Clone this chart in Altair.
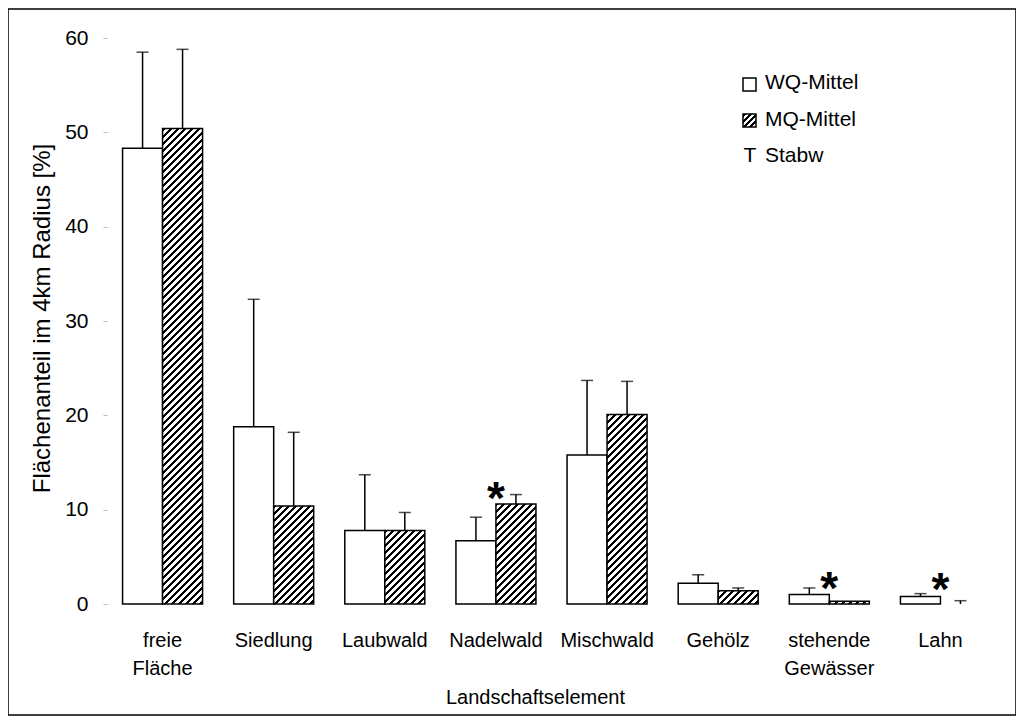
import altair as alt
import pandas as pd

categories = ["freie Fläche", "Siedlung", "Laubwald", "Nadelwald", "Mischwald",
              "Gehölz", "stehende Gewässer", "Lahn"]
wq_mean = [48.3, 18.8, 7.8, 6.7, 15.8, 2.2, 1.0, 0.8]
wq_sd = [10.2, 13.5, 5.9, 2.5, 7.9, 0.9, 0.7, 0.3]
mq_mean = [50.4, 10.4, 7.8, 10.6, 20.1, 1.4, 0.3, 0.0]
mq_sd = [8.4, 7.8, 1.9, 1.0, 3.5, 0.3, 0.0, 0.35]
star_cats = ["Nadelwald", "stehende Gewässer", "Lahn"]
star_y = [12.3, 2.8, 2.7]
series = ["WQ", "MQ"]
legend_labels = ["WQ-Mittel", "MQ-Mittel", "Stabw"]
y_ticks = [0, 10, 20, 30, 40, 50, 60]

W, H = 889, 566
YMAX = 60
BAR_W = 40
FONT = "Liberation Sans"

rows = []
for i, c in enumerate(categories):
    rows.append(dict(cat=c, s="WQ", v=wq_mean[i], sd=wq_sd[i], top=wq_mean[i] + wq_sd[i]))
    rows.append(dict(cat=c, s="MQ", v=mq_mean[i], sd=mq_sd[i], top=mq_mean[i] + mq_sd[i]))
df = pd.DataFrame(rows)
stars = pd.DataFrame({"cat": star_cats, "y": star_y})


def hatch(w, h, period=7.0, black=3.0):
    """Diagonal '/' stripes via a hard-stop linear gradient in bbox units."""
    h = max(h, 1.0)
    L = w + h
    k = L / (w * w + h * h)
    stops = []
    s = 0.0
    while s < L:
        a = s / L
        b = min((s + black) / L, 1.0)
        stops += [{"offset": a, "color": "white"}, {"offset": a, "color": "black"},
                  {"offset": b, "color": "black"}, {"offset": b, "color": "white"}]
        s += period
    stops.append({"offset": 1.0, "color": "white"})
    return {"gradient": "linear", "x1": 0, "y1": 0, "x2": w * k, "y2": h * k, "stops": stops}


x_axis = alt.Axis(labelAngle=0, ticks=False, domain=False, labelFontSize=20,
                  labelColor="black", labelPadding=26, labelLineHeight=28,
                  labelExpr="split(datum.label, ' ')", labelFont=FONT,
                  titleFontSize=20, titleFont=FONT,
                  titleFontWeight="normal", titleColor="black",
                  titleX=428, titleY=93, titleBaseline="middle", titleAlign="center")
y_axis = alt.Axis(values=y_ticks, grid=False, domain=False, tickColor="#bbbbbb",
                  tickSize=4, labelFontSize=21, labelColor="black", labelPadding=15,
                  labelFont=FONT, titleFontSize=24,
                  titleFont=FONT, titleFontWeight="normal", titleColor="black",
                  titleAngle=270, titleX=-65, titleY=280, titleAlign="center",
                  titleBaseline="middle")
X_TITLE = "Landschaftselement"
Y_TITLE = "Flächenanteil im 4km Radius [%]"
xs = alt.Scale(domain=categories, paddingInner=0.28, paddingOuter=0.14)
ys = alt.Scale(domain=[0, YMAX], nice=False, zero=True)


def X():
    return alt.X("cat:N", scale=xs, axis=x_axis, title=X_TITLE)


def Y(field):
    return alt.Y(field, scale=ys, axis=y_axis, title=Y_TITLE)


xo = alt.XOffset("s:N", scale=alt.Scale(domain=series, paddingInner=0, paddingOuter=0))

layers = []
wq_df = df[(df.s == "WQ") & (df.v > 0.01)]
layers.append(alt.Chart(wq_df).mark_bar(fill="white", stroke="black", strokeWidth=1.5)
              .encode(x=X(), xOffset=xo, y=Y("v:Q")))

for c, m in zip(categories, mq_mean):
    if m <= 0.01:
        continue
    h = m / YMAX * H
    sub = df[(df.s == "MQ") & (df.cat == c)]
    layers.append(alt.Chart(sub).mark_bar(fill=hatch(BAR_W, h), stroke="black", strokeWidth=1.5)
                  .encode(x=X(), xOffset=xo, y=Y("v:Q")))

err = df[df.sd > 0]
layers.append(alt.Chart(err).mark_rule(color="black", strokeWidth=1.5)
              .encode(x=X(), xOffset=xo, y=Y("v:Q"), y2="top:Q"))
layers.append(alt.Chart(err).mark_tick(color="black", thickness=1.5, size=12, orient="horizontal")
              .encode(x=X(), xOffset=xo, y=Y("top:Q")))

layers.append(alt.Chart(stars).mark_text(text="*", fontSize=46, fontWeight="bold", font=FONT,
                                         color="black", baseline="alphabetic", dy=26)
              .encode(x=X(), y=Y("y:Q")))

# legend
leg1 = pd.DataFrame({"label": [legend_labels[0]]})
leg2 = pd.DataFrame({"label": [legend_labels[1]]})
leg3 = pd.DataFrame({"label": [legend_labels[2]]})
layers.append(alt.Chart(leg1).mark_rect(fill="white", stroke="black", strokeWidth=1.5)
              .encode(x=alt.value(636), x2=alt.value(649), y=alt.value(40), y2=alt.value(53)))
layers.append(alt.Chart(leg2).mark_rect(fill=hatch(13, 13, period=6.0, black=3.0), stroke="black",
                                        strokeWidth=1.5)
              .encode(x=alt.value(636), x2=alt.value(649), y=alt.value(76), y2=alt.value(89)))
layers.append(alt.Chart(leg3).mark_text(text="T", fontSize=21, font=FONT, color="black",
                                        baseline="middle", align="center")
              .encode(x=alt.value(643), y=alt.value(118)))
for d, yy in ((leg1, 45), (leg2, 82), (leg3, 118)):
    layers.append(alt.Chart(d).mark_text(fontSize=21, font=FONT, color="black",
                                         baseline="middle", align="left")
                  .encode(x=alt.value(658), y=alt.value(yy), text="label:N"))

# outer frame
layers.append(alt.Chart(leg1).mark_rect(filled=False, stroke="black", strokeWidth=1.5)
              .encode(x=alt.value(-99), x2=alt.value(909), y=alt.value(-29), y2=alt.value(677)))

chart = alt.layer(*layers).properties(
    width=W, height=H,
    autosize=alt.AutoSizeParams(type="none"),
    padding={"left": 99, "top": 30, "right": 20, "bottom": 112},
    background="white",
).configure(font=FONT).configure_view(stroke="transparent", strokeWidth=0)

chart.save("out.html", embed_options={"renderer": "svg", "actions": False})
